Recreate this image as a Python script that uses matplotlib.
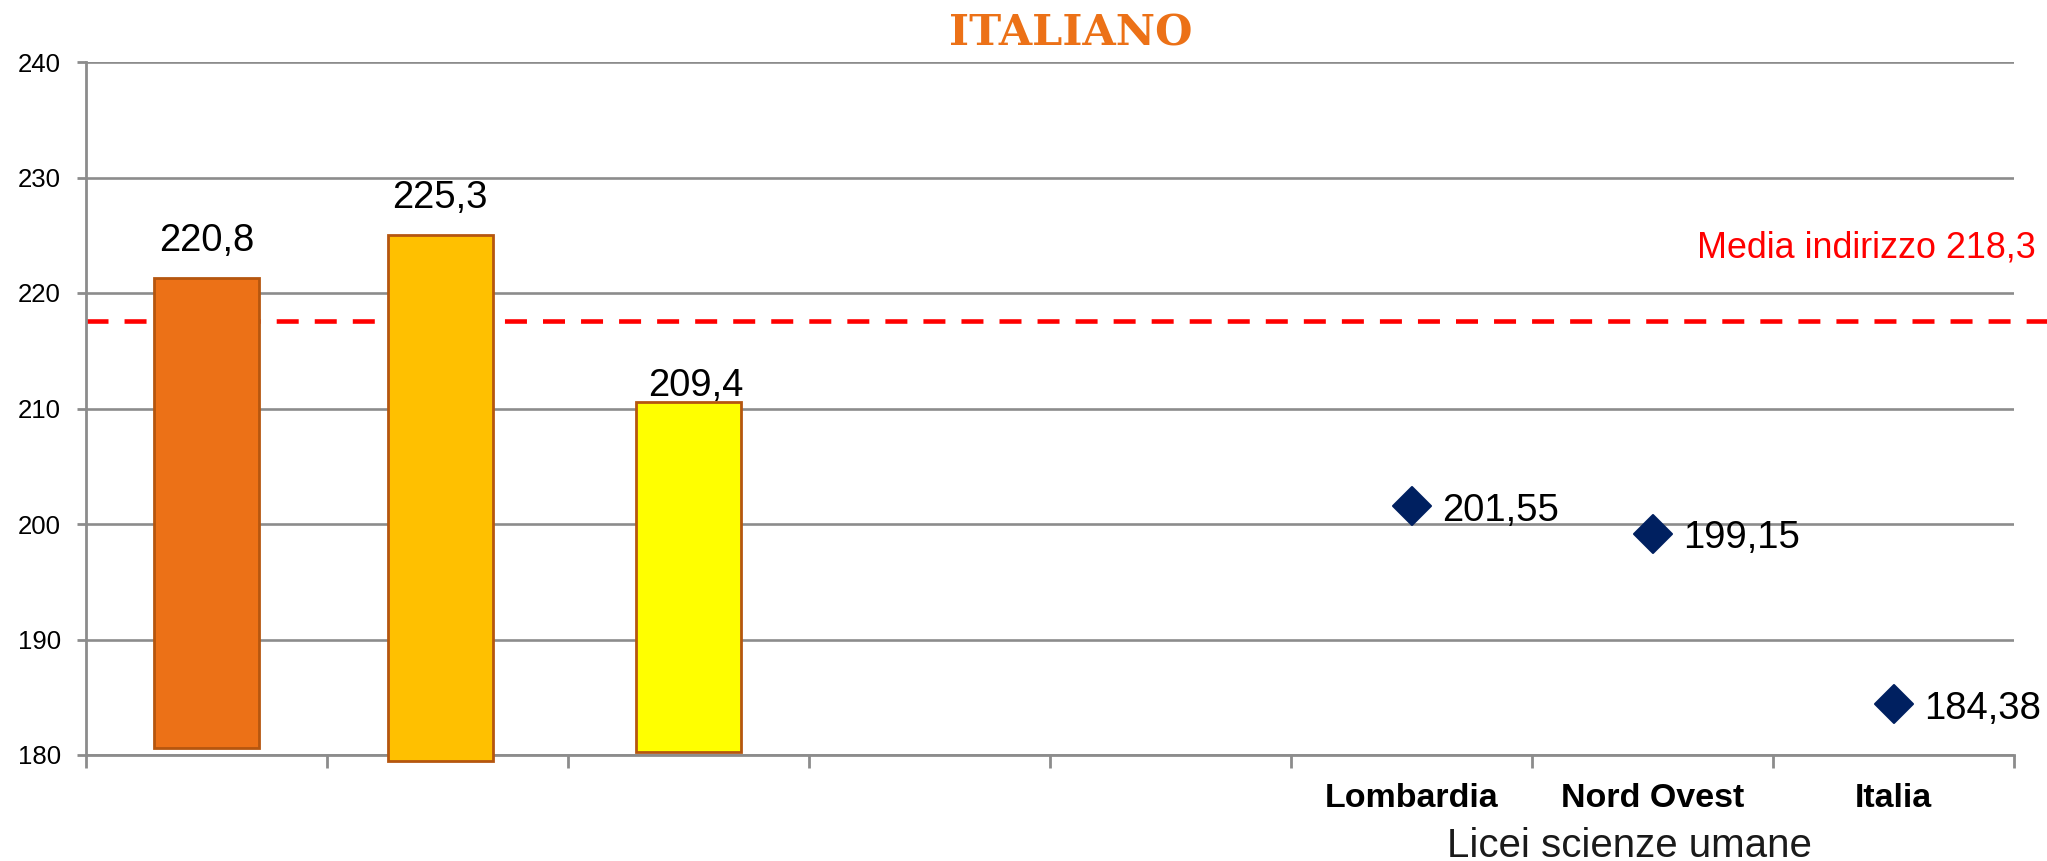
import matplotlib
matplotlib.use("Agg")
import matplotlib.pyplot as plt
from matplotlib.ticker import FixedLocator, NullFormatter
from matplotlib.markers import MarkerStyle

# ---- data ----
categories = ["", "", "", "", "", "Lombardia", "Nord Ovest", "Italia"]
bar_values = [221.3, 225.0, 210.6]          # bar tops as drawn in the picture
bar_bottoms = [180.6, 179.5, 180.3]         # bar bases as drawn in the picture
bar_labels = ["220,8", "225,3", "209,4"]
point_values = [201.55, 199.15, 184.38]
point_labels = ["201,55", "199,15", "184,38"]
media_value = 217.6                          # dashed line position as drawn
media_label = "Media indirizzo 218,3"
title = "ITALIANO"
xlabel = "Licei scienze umane"
yticks = [180, 190, 200, 210, 220, 230, 240]

plt.rcParams["font.family"] = ["Liberation Sans", "DejaVu Sans"]

W, H = 2047, 861
fig = plt.figure(figsize=(W / 100, H / 100), dpi=100)
ax = fig.add_axes([86 / W, 1 - 755 / H, (2014 - 86) / W, (755 - 62) / H])

ymin, ymax = yticks[0], yticks[-1]
ax.set_ylim(ymin, ymax)
ax.set_xlim(-0.5, len(categories) - 0.5)

GRID = "#8C8C8C"

# bars (category positions 0..2)
bar_pos = [0, 0.97, 2]
bar_colors = ["#EC7117", "#FFC000", "#FFFF00"]
bars = ax.bar(bar_pos, [t - b for t, b in zip(bar_values, bar_bottoms)],
              bottom=bar_bottoms, width=0.435,
              color=bar_colors, edgecolor="#B5560F", linewidth=2, zorder=3,
              clip_on=False)
label_dy = [19.4, 19.4, 4.3]
label_dx = [0.0, 0.0, 0.03]
for b, lab, dy, dx in zip(bars, bar_labels, label_dy, label_dx):
    ax.annotate(lab, (b.get_x() + b.get_width() / 2 + dx, b.get_y() + b.get_height()),
                xytext=(0, dy), textcoords="offset points", ha="center", va="baseline",
                fontsize=27.5, color="black", zorder=5)

# points (category positions 5..7)
pt_x = [5, 6, 7]
ax.plot(pt_x, point_values, linestyle="none",
        marker=MarkerStyle("D", joinstyle="round"), markersize=19,
        markeredgewidth=1.5, color="#002060", zorder=4)
for x, v, lab in zip(pt_x, point_values, point_labels):
    ax.annotate(lab, (x, v), xytext=(22, -10.4), textcoords="offset points",
                ha="left", va="baseline", fontsize=27.5, color="black", zorder=5)

# media line (extends to the right edge of the figure)
ax.axhline(media_value, xmin=0, xmax=(W - 86) / (2014 - 86), color="#FF0000",
           linewidth=3.3, linestyle=(0, (4.8, 3.5)), clip_on=False, zorder=2)
fig.text(2036 / W, 1 - 257 / H, media_label, ha="right", va="baseline",
         fontsize=25.8, color="#FF0000")

# grid & axes
ax.set_yticks(yticks)
ax.set_yticklabels([str(t) for t in yticks], fontsize=18.5)
ax.yaxis.grid(True, color=GRID, linewidth=1.9, zorder=0)
ax.set_axisbelow(True)
for s in ["top", "right"]:
    ax.spines[s].set_visible(False)
for s in ["left", "bottom"]:
    ax.spines[s].set_color(GRID)
    ax.spines[s].set_linewidth(2)
ax.tick_params(axis="y", length=6.5, width=2, color=GRID, pad=11.5)

n = len(categories)
ax.xaxis.set_major_locator(FixedLocator([i - 0.5 for i in range(n + 1)]))
ax.xaxis.set_major_formatter(NullFormatter())
ax.xaxis.set_minor_locator(FixedLocator(list(range(n))))
ax.set_xticklabels(categories, minor=True, fontsize=24.5, fontweight="bold")
ax.tick_params(axis="x", which="major", length=9, width=2, color=GRID)
ax.tick_params(axis="x", which="minor", length=0, pad=20)

fig.text(1629 / W, 1 - 857 / H, xlabel, ha="center", va="baseline",
         fontsize=29, color="#1A1A1A")

fig.text(1071 / W, 1 - 45 / H, title, ha="center", va="baseline", fontsize=31,
         fontweight="bold", family="DejaVu Serif", color="#EC7117")

fig.savefig("out.png", dpi=100)
